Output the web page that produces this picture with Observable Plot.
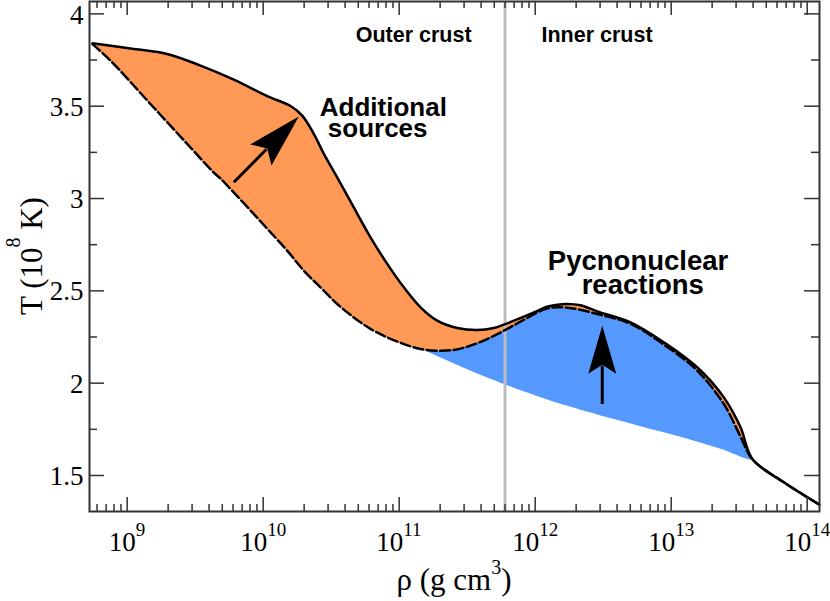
<!DOCTYPE html>
<html><head><meta charset="utf-8">
<script src="https://cdn.jsdelivr.net/npm/d3@7"></script>
<script src="https://cdn.jsdelivr.net/npm/@observablehq/plot@0.6"></script>
<style>html,body{margin:0;padding:0;background:#fff}svg{display:block}</style>
</head><body><div id="chart"></div>
<script>
// ---- data (log10 of density in g cm^-3, T in 10^8 K) ----
const upperLogRho = [8.745, 9.049, 9.294, 9.539, 9.784, 10.029, 10.201, 10.287, 10.372, 10.446, 10.544, 10.666, 10.789, 10.912, 11.034, 11.157, 11.279, 11.426, 11.574, 11.696, 11.769, 11.965, 12.088, 12.162, 12.235, 12.333, 12.456, 12.701, 12.946, 13.191, 13.387, 13.510, 13.596, 13.828, 14.090];
const upperT      = [3.841, 3.810, 3.783, 3.720, 3.644, 3.555, 3.501, 3.449, 3.350, 3.242, 3.115, 2.952, 2.790, 2.646, 2.519, 2.411, 2.339, 2.299, 2.288, 2.299, 2.317, 2.375, 2.414, 2.425, 2.429, 2.422, 2.389, 2.329, 2.221, 2.086, 1.923, 1.761, 1.589, 1.463, 1.342];

const lowerLogRho = [8.745, 8.877, 9.171, 9.441, 9.637, 9.686, 10.054, 10.176, 10.299, 10.421, 10.544, 10.666, 10.789, 10.912, 11.034, 11.157, 11.279, 11.401, 11.524, 11.647, 11.769, 11.892, 12.088, 12.235, 12.456, 12.701, 12.946, 13.191, 13.387, 13.510, 13.596, 13.828, 14.090];
const lowerT      = [3.836, 3.747, 3.512, 3.296, 3.140, 3.108, 2.817, 2.718, 2.609, 2.519, 2.429, 2.356, 2.294, 2.248, 2.212, 2.185, 2.176, 2.180, 2.203, 2.239, 2.284, 2.333, 2.404, 2.409, 2.375, 2.321, 2.209, 2.068, 1.887, 1.710, 1.589, 1.463, 1.342];

const baseLogRho  = [11.181, 11.473, 11.769, 12.089, 12.333, 12.760, 13.068, 13.363, 13.596];
const baseT       = [2.179, 2.084, 1.996, 1.911, 1.856, 1.770, 1.710, 1.645, 1.589];

const dripRho = [6e11];

const arrowTailLogRho = [9.784, 12.493];
const arrowTailT      = [3.088, 1.887];
const arrowTipLogRho  = [10.262, 12.493];
const arrowTipT       = [3.444, 2.311];

const yTickValues = [1.5, 2, 2.5, 3, 3.5, 4];
const yTickLabels = ["1.5", "2", "2.5", "3", "3.5", "4"];
const yMinorValues = [1.75, 2.25, 2.75, 3.25, 3.75];
const xTickValues = [1e9, 1e10, 1e11, 1e12, 1e13, 1e14];
const xTickExponents = ["9", "10", "11", "12", "13", "14"];

const regionLabels = ["Outer crust", "Inner crust"];
const sourceLabels = ["Additional", "sources"];
const pycnoLabels = ["Pycnonuclear", "reactions"];

// ---- layout ----
const W = 830, H = 601, mL = 89, mR = 11, mT = 1, mB = 90;
const xDomain = [Math.pow(10, 8.7228), Math.pow(10, 14.0904)];
const yDomain = [1.305, 4.067];
const serif = "'Liberation Serif','Times New Roman',Times,serif";
const sans = "'Liberation Sans',Arial,Helvetica,sans-serif";
const frameColor = "#333";

const upper = upperLogRho.map((e, i) => ({rho: 10 ** e, T: upperT[i]}));
const lower = lowerLogRho.map((e, i) => ({rho: 10 ** e, T: lowerT[i]}));
const base = baseLogRho.map((e, i) => ({rho: 10 ** e, T: baseT[i]}));

const kinkRho = base[base.length - 1].rho;
const startRho = base[0].rho;
// orange polygon: upper curve forward, lower curve back
const orangePoly = upper.filter(d => d.rho <= kinkRho * 1.0001)
  .concat(lower.filter(d => d.rho < kinkRho * 0.9999).reverse());
// blue polygon: lower curve from start of baseline to kink, baseline back
const bluePoly = [base[0]].concat(lower.filter(d => d.rho > startRho && d.rho <= kinkRho * 1.0001))
  .concat(base.slice(1, -1).reverse());

// minor x ticks
const xMinor = [];
for (let k = 8; k <= 14; k++) for (let m = 2; m <= 9; m++) {
  const v = m * 10 ** k;
  if (v > xDomain[0] && v < xDomain[1]) xMinor.push(v);
}

const xs = Plot.scale({x: {type: "log", domain: xDomain, range: [mL, W - mR]}});
const ys = Plot.scale({y: {type: "linear", domain: yDomain, range: [H - mB, mT]}});

function headShape(headLen, halfW, notch) {
  return {draw(ctx, l) {
    ctx.moveTo(0, -l);
    ctx.lineTo(halfW, -l + headLen);
    ctx.lineTo(0, -l + headLen - notch);
    ctx.lineTo(-halfW, -l + headLen);
    ctx.closePath();
  }};
}
function shaftShape(headLen, notch) {
  return {draw(ctx, l) { ctx.moveTo(0, 0); ctx.lineTo(0, -l + headLen - notch + 1); }};
}
const headSizes = [[54, 15, 9], [48, 14, 9]];
const arrowMarks = [];
arrowTailLogRho.forEach((e, i) => {
  const x0 = xs.apply(10 ** e), y0 = ys.apply(arrowTailT[i]);
  const x1 = xs.apply(10 ** arrowTipLogRho[i]), y1 = ys.apply(arrowTipT[i]);
  const len = Math.hypot(x1 - x0, y1 - y0);
  const ang = Math.atan2(x1 - x0, -(y1 - y0)) * 180 / Math.PI;
  const d = [{rho: 10 ** e, T: arrowTailT[i]}];
  const [hl, hw, nt] = headSizes[i];
  arrowMarks.push(Plot.vector(d, {x: "rho", y: "T", length: len, rotate: ang, anchor: "start",
    shape: shaftShape(hl, nt), stroke: "black", strokeWidth: 3, strokeLinecap: "butt"}));
  arrowMarks.push(Plot.vector(d, {x: "rho", y: "T", length: len, rotate: ang, anchor: "start",
    shape: headShape(hl, hw, nt), fill: "black", stroke: "none"}));
});

const plotH = H - mB - mT, plotW = W - mL - mR;

const chart = Plot.plot({
  width: W, height: H,
  marginLeft: mL, marginRight: mR, marginTop: mT, marginBottom: mB,
  style: {background: "white", overflow: "visible"},
  x: {type: "log", domain: xDomain, axis: null},
  y: {domain: yDomain, axis: null},
  marks: [
    Plot.line(orangePoly, {x: "rho", y: "T", fill: "#ff9955", stroke: "none", curve: "catmull-rom"}),
    Plot.line(bluePoly, {x: "rho", y: "T", fill: "#5599ff", stroke: "none", curve: "catmull-rom"}),
    Plot.ruleX(dripRho, {stroke: "#bdbdbd", strokeWidth: 3}),
    Plot.line(upper, {x: "rho", y: "T", stroke: "black", strokeWidth: 2.5, curve: "catmull-rom"}),
    Plot.line(lower, {x: "rho", y: "T", stroke: "black", strokeWidth: 2.5, strokeDasharray: "10,3.5", curve: "catmull-rom"}),
    ...arrowMarks,
    // region labels
    Plot.text([regionLabels[0]], {x: [10 ** 11.532], y: [3.845], text: d => d, textAnchor: "end", lineAnchor: "bottom",
      fontFamily: sans, fontWeight: "bold", fontSize: 21.5, fill: "black"}),
    Plot.text([regionLabels[1]], {x: [10 ** 12.046], y: [3.845], text: d => d, textAnchor: "start", lineAnchor: "bottom",
      fontFamily: sans, fontWeight: "bold", fontSize: 21.5, fill: "black"}),
    Plot.text(sourceLabels, {x: [10 ** 10.416, 10 ** 10.475], y: [3.449, 3.332], text: d => d, textAnchor: "start", lineAnchor: "bottom",
      fontFamily: sans, fontWeight: "bold", fontSize: 26, fill: "black"}),
    Plot.text(pycnoLabels, {x: [10 ** 12.756, 10 ** 12.791], y: [2.613, 2.483], text: d => d, textAnchor: "middle", lineAnchor: "bottom",
      fontFamily: sans, fontWeight: "bold", fontSize: 27.5, fill: "black"}),
    // frame and ticks
    Plot.frame({stroke: frameColor, strokeWidth: 2}),
    Plot.tickY(yTickValues, {y: d => d, insetRight: plotW - 15, stroke: frameColor, strokeWidth: 1.5}),
    Plot.tickY(yMinorValues, {y: d => d, insetRight: plotW - 8, stroke: frameColor, strokeWidth: 1.5}),
    Plot.tickY(yTickValues, {y: d => d, insetLeft: plotW - 15, stroke: frameColor, strokeWidth: 1.5}),
    Plot.tickY(yMinorValues, {y: d => d, insetLeft: plotW - 8, stroke: frameColor, strokeWidth: 1.5}),
    Plot.tickX(xTickValues, {x: d => d, insetTop: plotH - 14, stroke: frameColor, strokeWidth: 1.5}),
    Plot.tickX(xMinor, {x: d => d, insetTop: plotH - 7, stroke: frameColor, strokeWidth: 1.5}),
    Plot.tickX(xTickValues, {x: d => d, insetBottom: plotH - 14, stroke: frameColor, strokeWidth: 1.5}),
    Plot.tickX(xMinor, {x: d => d, insetBottom: plotH - 7, stroke: frameColor, strokeWidth: 1.5}),
    // y tick labels
    Plot.text(yTickValues, {y: d => d, text: (d, i) => yTickLabels[i], frameAnchor: "left", textAnchor: "end",
      lineAnchor: "middle", dx: -6, dy: 1, fontFamily: serif, fontSize: 27, fill: "black"}),
    // x tick labels: "10" + superscript exponent
    Plot.text(xTickValues.slice(0, 1), {x: d => d, text: () => "10", frameAnchor: "bottom", textAnchor: "end",
      lineAnchor: "bottom", dx: 8.5, dy: 39.5, fontFamily: serif, fontSize: 27, fill: "black"}),
    Plot.text(xTickValues.slice(0, 1), {x: d => d, text: (d, i) => xTickExponents[i], frameAnchor: "bottom", textAnchor: "start",
      lineAnchor: "bottom", dx: 8.5, dy: 24, fontFamily: serif, fontSize: 19, fill: "black"}),
    Plot.text(xTickValues.slice(1), {x: d => d, text: () => "10", frameAnchor: "bottom", textAnchor: "end",
      lineAnchor: "bottom", dx: 4, dy: 39.5, fontFamily: serif, fontSize: 27, fill: "black"}),
    Plot.text(xTickValues.slice(1), {x: d => d, text: (d, i) => xTickExponents[i + 1], frameAnchor: "bottom", textAnchor: "start",
      lineAnchor: "bottom", dx: 4, dy: 24, fontFamily: serif, fontSize: 19, fill: "black"})
  ]
});

// axis titles with superscripts
const svg = d3.select(chart);
const yt = svg.append("text")
  .attr("transform", `translate(42,${mT + plotH / 2}) rotate(-90)`)
  .attr("text-anchor", "middle").attr("font-family", serif).attr("font-size", 31).attr("fill", "black");
yt.append("tspan").text("T (10");
yt.append("tspan").attr("font-size", 20).attr("dy", -22).text("8");
yt.append("tspan").attr("dy", 22).text(" K)");

const xt = svg.append("text")
  .attr("x", mL + plotW / 2).attr("y", 590)
  .attr("text-anchor", "middle").attr("font-family", serif).attr("font-size", 31).attr("fill", "black");
xt.append("tspan").text("ρ (g cm");
xt.append("tspan").attr("font-size", 20).attr("dy", -16).text("3");
xt.append("tspan").attr("dy", 16).text(")");

document.getElementById("chart").appendChild(chart);
</script>
</body></html>
